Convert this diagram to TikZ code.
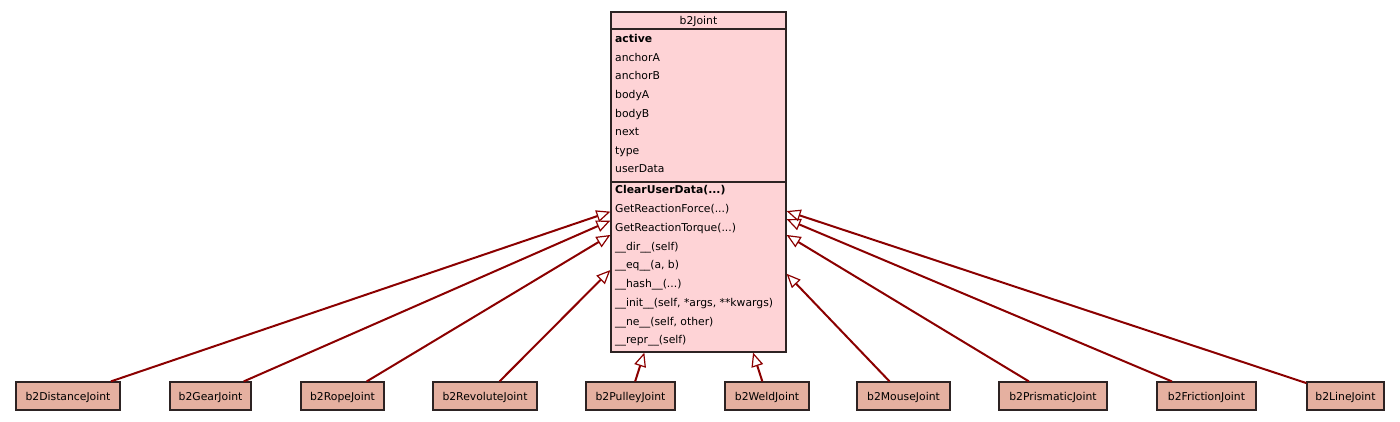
\documentclass[tikz,border=0pt]{standalone}
\usepackage{fontspec}
\setmainfont{DejaVu Sans}
\usetikzlibrary{arrows.meta}
\definecolor{umlline}{RGB}{139,0,0}
\definecolor{classfill}{RGB}{254,211,214}
\definecolor{subfill}{RGB}{229,176,160}
\definecolor{umlborder}{RGB}{45,35,35}
\newcommand{\elp}{...}

\begin{document}
\begin{tikzpicture}[x=1pt,y=-1pt]
    \tikzstyle{every node}=[font=\fontsize{10.8}{12}\selectfont,inner sep=0pt];
    \tikzstyle{member}=[anchor=base west,inner xsep=2pt];
    \tikzstyle{subclass}=[draw=umlborder,line width=1.2pt,fill=subfill,minimum height=28pt,text height=8pt,text depth=0pt];
    \tikzstyle{inherit}=[draw=umlline,line width=2pt,-{Triangle[open,length=14pt,width=12pt,line width=1.2pt]}];
    \useasboundingbox (0,0) rectangle (1400,421);

    % base class
    \node at (698.5,182) (cls) [draw=umlborder,line width=1.2pt,fill=classfill,minimum width=175pt,minimum height=340pt] {};
    \draw[umlborder,line width=1.2pt] (cls.north west) ++(0,17.5) -- ++(175,0);
    \draw[umlborder,line width=1.2pt] (cls.west) -- (cls.east);
    \node at (698.5,24.3) (title) [anchor=base] {b2Joint};
    \foreach \txt [count=\i from 0] in {{\bfseries active},anchorA,anchorB,bodyA,bodyB,next,type,userData}
        \node at (613,39+\i*18.57+3.8) (attr\i) [member] {\txt};
    \foreach \txt [count=\i from 0] in {{\bfseries ClearUserData(\elp)},{GetReactionForce(\elp)},{GetReactionTorque(\elp)},
        {\_\_dir\_\_(self)},{\_\_eq\_\_(a, b)},{\_\_hash\_\_(\elp)},{\_\_init\_\_(self, *args, **kwargs)},
        {\_\_ne\_\_(self, other)},{\_\_repr\_\_(self)}}
        \node at (613,190+\i*18.75+3.8) (meth\i) [member] {\txt};

    % subclasses
    \node at (68,396)     (dist)     [subclass,minimum width=104pt] {b2DistanceJoint};
    \node at (210.5,396)  (gear)     [subclass,minimum width=81pt]  {b2GearJoint};
    \node at (342.5,396)  (rope)     [subclass,minimum width=83pt]  {b2RopeJoint};
    \node at (485,396)    (revolute) [subclass,minimum width=104pt] {b2RevoluteJoint};
    \node at (630.5,396)  (pulley)   [subclass,minimum width=89pt]  {b2PulleyJoint};
    \node at (767,396)    (weld)     [subclass,minimum width=84pt]  {b2WeldJoint};
    \node at (903.5,396)  (mouse)    [subclass,minimum width=93pt]  {b2MouseJoint};
    \node at (1053,396)   (prism)    [subclass,minimum width=108pt] {b2PrismaticJoint};
    \node at (1206.5,396) (friction) [subclass,minimum width=99pt]  {b2FrictionJoint};
    \node at (1345.5,396) (line)     [subclass,minimum width=77pt]  {b2LineJoint};

    \draw[inherit] (dist) -- (cls);
    \draw[inherit] (gear) -- (cls);
    \draw[inherit] (rope) -- (cls);
    \draw[inherit] (revolute) -- (cls);
    \draw[inherit] (pulley) -- (cls);
    \draw[inherit] (weld) -- (cls);
    \draw[inherit] (mouse) -- (cls);
    \draw[inherit] (prism) -- (cls);
    \draw[inherit] (friction) -- (cls);
    \draw[inherit] (line) -- (cls);
\end{tikzpicture}
\end{document}
